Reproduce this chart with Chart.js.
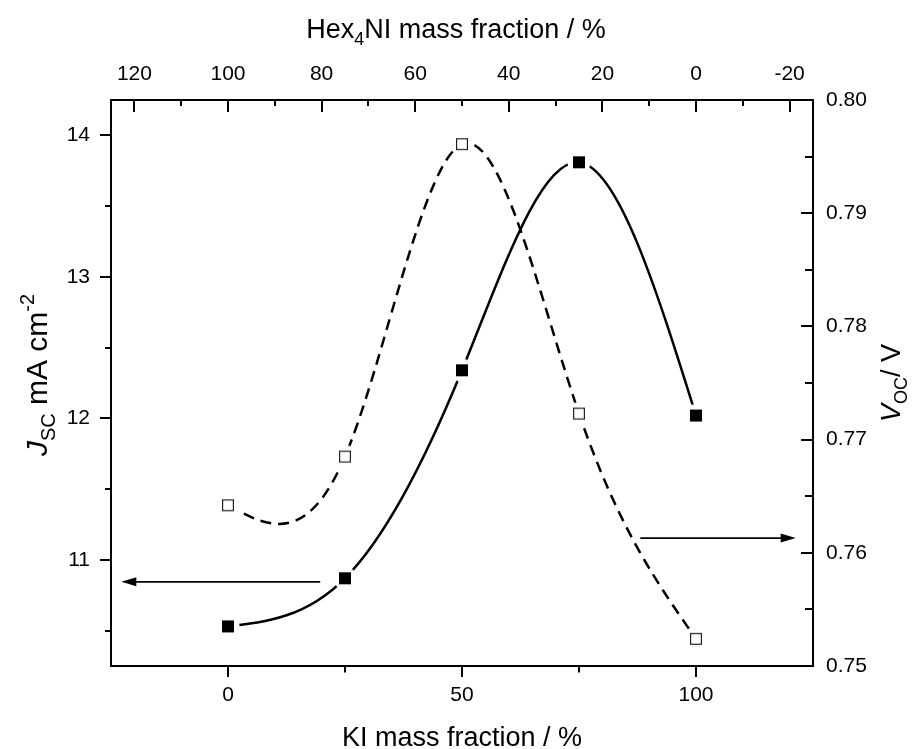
<!DOCTYPE html>
<html>
<head>
<meta charset="utf-8">
<script src="https://cdn.jsdelivr.net/npm/chart.js@4/dist/chart.umd.min.js"></script>
<style>
  html, body { margin: 0; padding: 0; background: #fff; }
  canvas { display: block; }
</style>
</head>
<body>
<canvas id="c" width="915" height="749"></canvas>
<script>
// ---------------- data ----------------
const kiFraction = [0, 25, 50, 75, 100];                       // KI mass fraction / %
const jscValues  = [10.53, 10.87, 12.34, 13.81, 12.02];        // J_SC / mA cm^-2
const vocValues  = [0.7642, 0.7685, 0.7961, 0.7723, 0.7524];   // V_OC / V

const kiTicks    = [0, 50, 100];
const kiMinor    = [25, 75];
const hexTicks   = [120, 100, 80, 60, 40, 20, 0, -20];
const hexMinor   = [110, 90, 70, 50, 30, 10, -10];
const jscTicks   = [11, 12, 13, 14];
const jscMinor   = [10.5, 11.5, 12.5, 13.5];
const vocTicks   = [0.75, 0.76, 0.77, 0.78, 0.79, 0.80];
const vocLabels  = ['0.75', '0.76', '0.77', '0.78', '0.79', '0.80'];
const vocMinor   = [0.755, 0.765, 0.775, 0.785, 0.795];

// arrows: [from KI, to KI, value on its own axis]
const jscArrow = [19.7, -22.8, 10.845];
const vocArrow = [88.1, 121.3, 0.7613];

const FONT = "'Liberation Sans', Arial, sans-serif";

// ---------------- markers ----------------
function makeMarker(filled) {
  const c = document.createElement('canvas');
  c.width = 26; c.height = 26;
  const g = c.getContext('2d');
  g.fillStyle = '#fff';
  g.beginPath(); g.arc(13, 13, 11.5, 0, Math.PI * 2); g.fill();
  if (filled) {
    g.fillStyle = '#000';
    g.fillRect(7, 7, 12, 12);
  } else {
    g.fillStyle = '#fff';
    g.fillRect(7, 7, 12, 12);
    g.strokeStyle = '#222';
    g.lineWidth = 1.2;
    g.strokeRect(7.6, 7.6, 10.8, 10.8);
  }
  return c;
}

// ---------------- natural cubic spline (control points) ----------------
const naturalSpline = {
  id: 'naturalSpline',
  beforeDatasetsDraw(chart) {
    chart.getSortedVisibleDatasetMetas().forEach(meta => {
      const pts = meta.data, n = pts.length;
      if (n < 3) return;
      const xs = pts.map(p => p.x), ys = pts.map(p => p.y);
      const h = [];
      for (let i = 0; i < n - 1; i++) h[i] = xs[i + 1] - xs[i];
      const M = new Array(n).fill(0);
      const a = [], b = [], c = [], r = [];
      for (let i = 1; i < n - 1; i++) {
        a[i] = h[i - 1]; b[i] = 2 * (h[i - 1] + h[i]); c[i] = h[i];
        r[i] = 6 * ((ys[i + 1] - ys[i]) / h[i] - (ys[i] - ys[i - 1]) / h[i - 1]);
      }
      const cp = [], dp = [];
      for (let i = 1; i < n - 1; i++) {
        const m = b[i] - (i > 1 ? a[i] * cp[i - 1] : 0);
        cp[i] = c[i] / m;
        dp[i] = (r[i] - (i > 1 ? a[i] * dp[i - 1] : 0)) / m;
      }
      for (let i = n - 2; i >= 1; i--) {
        M[i] = dp[i] - (i < n - 2 ? cp[i] * M[i + 1] : 0);
      }
      const d = [];
      for (let i = 0; i < n - 1; i++) {
        d[i] = (ys[i + 1] - ys[i]) / h[i] - h[i] * (2 * M[i] + M[i + 1]) / 6;
      }
      d[n - 1] = (ys[n - 1] - ys[n - 2]) / h[n - 2] + h[n - 2] * (M[n - 2] + 2 * M[n - 1]) / 6;
      for (let i = 0; i < n; i++) {
        const hp = i > 0 ? h[i - 1] : h[0];
        const hn = i < n - 1 ? h[i] : h[n - 2];
        pts[i].cp1x = xs[i] - hp / 3; pts[i].cp1y = ys[i] - d[i] * hp / 3;
        pts[i].cp2x = xs[i] + hn / 3; pts[i].cp2y = ys[i] + d[i] * hn / 3;
      }
      if (meta.dataset) {
        meta.dataset._pointsUpdated = true;
        meta.dataset._path = undefined;
      }
    });
  }
};

// ---------------- ticks, arrows, titles ----------------
function richWidth(ctx, segs) {
  let w = 0;
  segs.forEach(s => { ctx.font = s.font; w += ctx.measureText(s.t).width; });
  return w;
}
function drawRich(ctx, segs, cx, cy, angle) {
  ctx.save();
  ctx.translate(cx, cy);
  ctx.rotate(angle);
  ctx.fillStyle = '#000';
  ctx.textAlign = 'left';
  ctx.textBaseline = 'alphabetic';
  const w = richWidth(ctx, segs);
  let x = -w / 2;
  segs.forEach(s => {
    ctx.font = s.font;
    ctx.fillText(s.t, x, s.dy || 0);
    x += ctx.measureText(s.t).width;
  });
  ctx.restore();
}

const decorations = {
  id: 'decorations',
  afterDraw(chart) {
    const ctx = chart.ctx, A = chart.chartArea, S = chart.scales;
    ctx.save();
    ctx.strokeStyle = '#000';
    ctx.lineWidth = 2;
    ctx.lineCap = 'butt';
    function tk(scale, vals, len, side) {
      vals.forEach(v => {
        const p = Math.round(scale.getPixelForValue(v));
        ctx.beginPath();
        if (side === 'bottom') { ctx.moveTo(p, A.bottom); ctx.lineTo(p, A.bottom + len); }
        if (side === 'top')    { ctx.moveTo(p, A.top);    ctx.lineTo(p, A.top + len); }
        if (side === 'left')   { ctx.moveTo(A.left, p);   ctx.lineTo(A.left - len, p); }
        if (side === 'right')  { ctx.moveTo(A.right, p);  ctx.lineTo(A.right - len, p); }
        ctx.stroke();
      });
    }
    tk(S.x, kiTicks, 11, 'bottom');  tk(S.x, kiMinor, 6.5, 'bottom');
    tk(S.xTop, hexTicks, 12, 'top'); tk(S.xTop, hexMinor, 6, 'top');
    tk(S.y, jscTicks, 11, 'left');   tk(S.y, jscMinor, 6, 'left');
    tk(S.y2, vocTicks, 12, 'right'); tk(S.y2, vocMinor, 8, 'right');

    function arrow(x1, x2, y) {
      const dir = Math.sign(x2 - x1);
      ctx.lineWidth = 1.8;
      ctx.beginPath(); ctx.moveTo(x1, y); ctx.lineTo(x2 - dir * 12, y); ctx.stroke();
      ctx.fillStyle = '#000';
      ctx.beginPath();
      ctx.moveTo(x2, y);
      ctx.lineTo(x2 - dir * 15, y - 4.5);
      ctx.lineTo(x2 - dir * 15, y + 4.5);
      ctx.closePath(); ctx.fill();
    }
    arrow(S.x.getPixelForValue(jscArrow[0]), S.x.getPixelForValue(jscArrow[1]), S.y.getPixelForValue(jscArrow[2]));
    arrow(S.x.getPixelForValue(vocArrow[0]), S.x.getPixelForValue(vocArrow[1]), S.y2.getPixelForValue(vocArrow[2]));
    ctx.restore();

    const big = '27px ' + FONT, bigI = 'italic 27px ' + FONT, small = '18px ' + FONT;
    const lbig = '30px ' + FONT, lbigI = 'italic 30px ' + FONT, lsmall = '20px ' + FONT;
    const cx = (A.left + A.right) / 2, cy = (A.top + A.bottom) / 2;
    drawRich(ctx, [{ t: 'KI mass fraction / %', font: big }], cx, 746, 0);
    drawRich(ctx, [
      { t: 'Hex', font: big },
      { t: '4', font: small, dy: 7 },
      { t: 'NI mass fraction / %', font: big }
    ], cx - 6, 38, 0);
    drawRich(ctx, [
      { t: 'J', font: lbigI },
      { t: 'SC', font: lsmall, dy: 8 },
      { t: ' mA cm', font: lbig },
      { t: '-2', font: lsmall, dy: -13 }
    ], 47, cy - 8, -Math.PI / 2);
    drawRich(ctx, [
      { t: 'V', font: bigI },
      { t: 'OC', font: small, dy: 7 },
      { t: '/ V', font: big }
    ], 900, cy, -Math.PI / 2);
  }
};

// ---------------- chart ----------------
const tickFont = { family: FONT, size: 21 };
function setTicks(arr) { return scale => { scale.ticks = arr.map(v => ({ value: v })); }; }

new Chart(document.getElementById('c'), {
  type: 'scatter',
  data: {
    datasets: [
      {
        label: 'Jsc',
        data: kiFraction.map((x, i) => ({ x: x, y: jscValues[i] })),
        xAxisID: 'x', yAxisID: 'y',
        showLine: true, fill: false,
        borderColor: '#000', borderWidth: 2.5, tension: 0.4,
        pointStyle: makeMarker(true), pointRadius: 8,
        order: 1
      },
      {
        label: 'Voc',
        data: kiFraction.map((x, i) => ({ x: x, y: vocValues[i] })),
        xAxisID: 'x', yAxisID: 'y2',
        showLine: true, fill: false,
        borderColor: '#000', borderWidth: 2.5, borderDash: [11, 7], tension: 0.4,
        pointStyle: makeMarker(false), pointRadius: 8,
        order: 0
      }
    ]
  },
  options: {
    responsive: false,
    animation: false,
    events: [],
    layout: { padding: 0 },
    plugins: { legend: { display: false }, tooltip: { enabled: false } },
    scales: {
      x: {
        type: 'linear', position: 'bottom', min: -25, max: 125,
        afterBuildTicks: setTicks(kiTicks),
        afterFit: s => { s.height = 83; },
        grid: { display: false, drawTicks: false },
        border: { display: true, color: '#000', width: 2 },
        ticks: { font: tickFont, color: '#000', padding: 17, maxRotation: 0, autoSkip: false }
      },
      xTop: {
        type: 'linear', position: 'top', min: -25, max: 125, reverse: true,
        afterBuildTicks: setTicks(hexTicks),
        afterFit: s => { s.height = 100; },
        grid: { display: false, drawTicks: false },
        border: { display: true, color: '#000', width: 2 },
        ticks: { font: tickFont, color: '#000', padding: 13, maxRotation: 0, autoSkip: false }
      },
      y: {
        type: 'linear', position: 'left', min: 10.25, max: 14.25,
        afterBuildTicks: setTicks(jscTicks),
        afterFit: s => { s.width = 111; },
        grid: { display: false, drawTicks: false },
        border: { display: true, color: '#000', width: 2 },
        ticks: { font: tickFont, color: '#000', padding: 21, autoSkip: false }
      },
      y2: {
        type: 'linear', position: 'right', min: 0.75, max: 0.80,
        afterBuildTicks: setTicks(vocTicks),
        afterFit: s => { s.width = 102; },
        grid: { display: false, drawTicks: false },
        border: { display: true, color: '#000', width: 2 },
        ticks: {
          font: tickFont, color: '#000', padding: 13, autoSkip: false,
          callback: (v, i) => vocLabels[i]
        }
      }
    }
  },
  plugins: [naturalSpline, decorations]
});
</script>
</body>
</html>
